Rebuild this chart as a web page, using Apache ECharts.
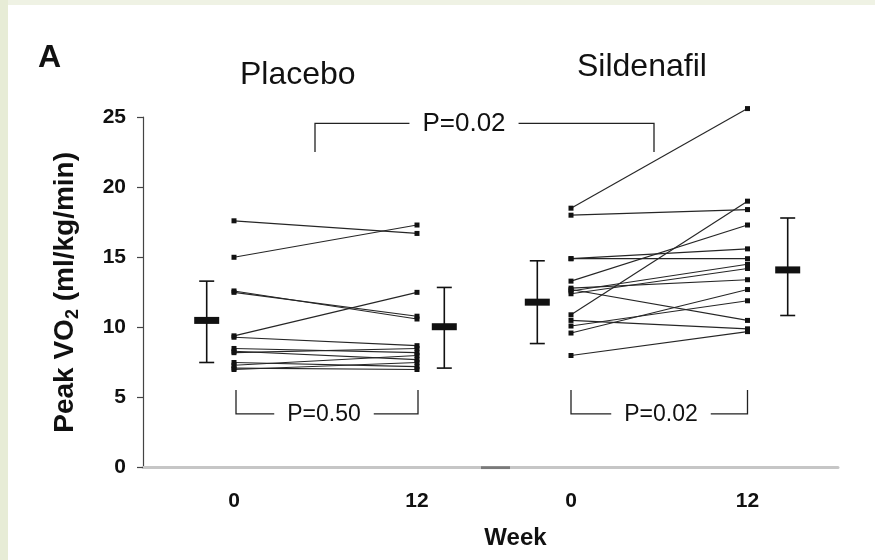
<!DOCTYPE html>
<html><head><meta charset="utf-8">
<script src="https://cdn.jsdelivr.net/npm/echarts@6/dist/echarts.min.js"></script>
<style>
html,body{margin:0;padding:0;background:#fff;}
#wrap{position:relative;width:875px;height:560px;background:#fff;overflow:hidden;}
#bandTop{position:absolute;left:0;top:0;width:875px;height:5px;background:#eff2e4;}
#bandLeft{position:absolute;left:0;top:0;width:8px;height:560px;background:#e7ecd6;}
#chart{position:absolute;left:0;top:0;width:875px;height:560px;}
</style></head><body>
<div id="wrap"><div id="bandTop"></div><div id="bandLeft"></div><div id="chart"></div></div>
<script>
// ---- data ----
const weekLabels = ['0', '12', '0', '12'];
const groupTitles = ['Placebo', 'Sildenafil'];
const yTicks = [0, 5, 10, 15, 20, 25];

const placeboW0  = [17.6, 15.0, 12.6, 12.5, 9.4, 9.3, 8.5, 8.3, 8.2, 7.5, 7.3, 7.1, 7.0];
const placeboW12 = [16.7, 17.3, 10.6, 10.8, 12.5, 8.7, 8.2, 7.7, 8.5, 7.2, 8.0, 7.0, 7.5];

const sildW0  = [18.5, 18.0, 14.9, 14.9, 13.3, 12.8, 12.6, 12.4, 12.7, 10.9, 10.5, 10.1, 9.6, 8.0];
const sildW12 = [25.6, 18.4, 15.6, 14.9, 17.3, 13.4, 14.5, 14.2, 10.5, 19.0, 9.9, 11.9, 12.7, 9.7];

const placeboMean = [10.5, 10.05];
const placeboLow  = [7.5, 7.1];
const placeboHigh = [13.3, 12.85];
const sildMean = [11.8, 14.1];
const sildLow  = [8.85, 10.85];
const sildHigh = [14.75, 17.8];

const pLabels = ['P=0.02', 'P=0.50', 'P=0.02'];

// ---- layout (x axis runs in layout units) ----
const X_MAX = 695;
const xPoint = [91, 274, 428, 604.5];        // week columns
const xMean  = [63.7, 301.3, 394.3, 644.7];  // mean ± SD columns
// brackets: [xStart, xEnd, yBar, yEnd, xText, fontSize]
const brackets = [
  [172, 511, 24.55, 22.5, 321, 26],
  [93, 275, 3.83, 5.54, 181, 23],
  [428, 604.5, 3.83, 5.54, 518, 23]
];
const axisBreak = [338, 367];

const FONT = 'Liberation Sans, Arial, Helvetica, sans-serif';
const INK = '#111';

function pairSeries(w0, w12, xa, xb) {
  return w0.map((v, i) => ({
    type: 'line',
    data: [[xa, v], [xb, w12[i]]],
    symbol: 'rect',
    symbolSize: [5, 5],
    itemStyle: { color: INK },
    lineStyle: { color: '#262626', width: 1.15 },
    silent: true,
    clip: false,
    z: 3
  }));
}

const meanData = [
  [xMean[0], placeboMean[0], placeboLow[0], placeboHigh[0]],
  [xMean[1], placeboMean[1], placeboLow[1], placeboHigh[1]],
  [xMean[2], sildMean[0], sildLow[0], sildHigh[0]],
  [xMean[3], sildMean[1], sildLow[1], sildHigh[1]]
];

const chart = echarts.init(document.getElementById('chart'), null, { renderer: 'canvas' });

const option = {
  animation: false,
  backgroundColor: 'transparent',
  textStyle: { fontFamily: FONT },
  title: [
    { text: 'A', left: 33, top: 37, textStyle: { fontSize: 32, fontWeight: 'bold', color: INK, fontFamily: FONT } },
    { text: groupTitles[0], left: 235, top: 54, textStyle: { fontSize: 32, fontWeight: 'normal', color: INK, fontFamily: FONT } },
    { text: groupTitles[1], left: 572, top: 46, textStyle: { fontSize: 32, fontWeight: 'normal', color: INK, fontFamily: FONT } }
  ],
  grid: { left: 143, right: 37, top: 117, bottom: 92.3, containLabel: false },
  xAxis: {
    type: 'value', min: 0, max: X_MAX,
    axisLine: { show: true, onZero: false, lineStyle: { color: '#c6c6c6', width: 3 } },
    axisTick: { show: false },
    splitLine: { show: false },
    axisLabel: {
      customValues: xPoint,
      formatter: (v) => { const i = xPoint.indexOf(v); return i >= 0 ? weekLabels[i] : ''; },
      margin: 23, fontSize: 21, fontWeight: 'bold', color: INK, fontFamily: FONT
    },
    name: 'Week', nameLocation: 'middle', nameGap: 59,
    nameTextStyle: { fontSize: 24, fontWeight: 'bold', color: INK, fontFamily: FONT, padding: [0, 0, 0, 50] }
  },
  yAxis: {
    type: 'value', min: 0, max: 25, interval: 5,
    axisLine: { show: true, lineStyle: { color: '#444', width: 1.2 } },
    axisTick: { show: true, length: 6, lineStyle: { color: '#444', width: 1.2 } },
    splitLine: { show: false },
    axisLabel: {
      margin: 17, fontSize: 21, fontWeight: 'bold', color: INK, fontFamily: FONT,
      formatter: (v) => (yTicks.indexOf(v) >= 0 ? String(v) : '')
    },
    name: '{a|Peak VO}{s|2}{a| (ml/kg/min)}',
    nameLocation: 'middle', nameGap: 61, nameRotate: 90,
    nameTextStyle: {
      rich: {
        a: { fontSize: 28, fontWeight: 'bold', color: INK, fontFamily: FONT, lineHeight: 34 },
        s: { fontSize: 18, fontWeight: 'bold', color: INK, fontFamily: FONT, verticalAlign: 'bottom', lineHeight: 34 }
      }
    }
  },
  series: [
    ...pairSeries(placeboW0, placeboW12, xPoint[0], xPoint[1]),
    ...pairSeries(sildW0, sildW12, xPoint[2], xPoint[3]),
    {
      type: 'line', data: [[axisBreak[0], 0], [axisBreak[1], 0]], symbol: 'none',
      lineStyle: { color: '#7a7a7a', width: 3 }, silent: true, z: 4
    },
    {
      type: 'custom', silent: true, z: 5,
      data: meanData,
      renderItem: (params, api) => {
        const c = api.coord([api.value(0), api.value(1)]);
        const lo = api.coord([api.value(0), api.value(2)]);
        const hi = api.coord([api.value(0), api.value(3)]);
        const st = { stroke: INK, lineWidth: 1.6 };
        return {
          type: 'group',
          children: [
            { type: 'line', shape: { x1: c[0], y1: hi[1], x2: c[0], y2: lo[1] }, style: st },
            { type: 'line', shape: { x1: c[0] - 7.5, y1: hi[1], x2: c[0] + 7.5, y2: hi[1] }, style: st },
            { type: 'line', shape: { x1: c[0] - 7.5, y1: lo[1], x2: c[0] + 7.5, y2: lo[1] }, style: st },
            { type: 'rect', shape: { x: c[0] - 12.5, y: c[1] - 3.5, width: 25, height: 7 }, style: { fill: INK } }
          ]
        };
      }
    },
    {
      type: 'custom', silent: true, z: 6,
      data: brackets,
      renderItem: (params, api) => {
        const a = api.coord([api.value(0), api.value(2)]);
        const b = api.coord([api.value(1), api.value(2)]);
        const ae = api.coord([api.value(0), api.value(3)]);
        const t = api.coord([api.value(4), api.value(2)]);
        const fs = api.value(5);
        return {
          type: 'group',
          children: [
            { type: 'polyline', shape: { points: [[a[0], ae[1]], [a[0], a[1]], [b[0], b[1]], [b[0], ae[1]]] },
              style: { stroke: '#222', lineWidth: 1.3, fill: null } },
            { type: 'text', z2: 10, style: {
                text: pLabels[params.dataIndex], x: t[0], y: t[1] + 1, align: 'center', verticalAlign: 'middle',
                fill: INK, font: 'normal ' + fs + 'px ' + FONT, backgroundColor: '#fff', padding: [0, 13]
              } }
          ]
        };
      }
    }
  ]
};
chart.setOption(option);
</script>
</body></html>
